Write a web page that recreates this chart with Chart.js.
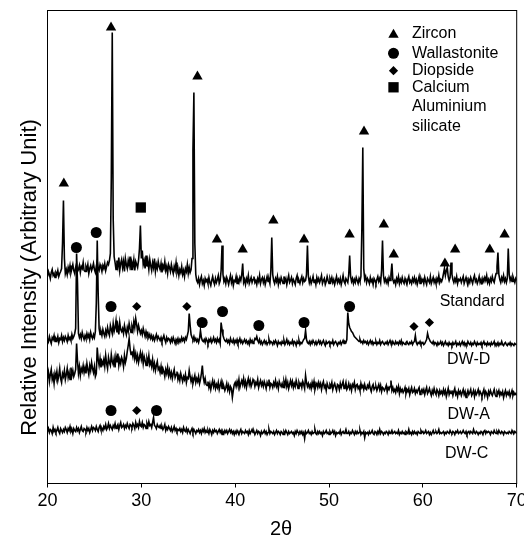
<!DOCTYPE html>
<html>
<head>
<meta charset="utf-8">
<script src="https://cdn.jsdelivr.net/npm/chart.js@4"></script>
<style>html,body{margin:0;padding:0;background:#fff}canvas{display:block}</style>
</head>
<body>
<canvas id="xrd" width="524" height="539"></canvas>
<script>
// Step scan 20–70° 2θ, 0.1° per step (501 points per pattern)
const START = 20, STEP = 0.1;

// Raw intensities, one row per degree
const standard = [
12,17,14,10,16,19,13,15,11,16,
14,18,12,15,17,20,45,88,30,15,
19,14,21,17,23,16,20,24,18,15,
21,25,17,19,23,16,22,20,26,18,
17,22,19,24,15,20,23,18,21,25,
19,16,22,27,20,18,24,21,17,23,
20,25,18,22,26,24,28,35,111,256,
70,32,26,19,28,22,31,18,25,29,
21,27,17,30,24,20,28,23,32,19,
26,22,29,18,27,24,21,28,40,63,
30,38,24,28,20,33,22,27,19,29,
23,18,26,21,30,17,24,20,27,22,
19,25,16,23,20,27,18,22,15,24,
21,17,24,19,15,22,18,26,16,20,
13,19,16,22,14,18,12,20,17,24,
15,21,16,19,30,138,196,45,14,8,
6,10,4,9,12,5,8,3,10,7,
9,5,11,6,3,8,12,7,4,10,
6,9,13,5,8,18,43,14,7,10,
5,11,8,4,9,13,6,10,3,8,
7,12,5,9,6,11,8,14,25,6,
9,4,10,7,13,5,8,11,6,9,
12,6,8,4,10,7,13,5,9,11,
6,10,4,8,12,7,9,5,18,51,
14,8,5,10,7,12,4,9,6,11,
8,5,12,7,10,4,9,13,6,8,
11,5,9,7,4,10,13,6,8,5,
9,12,6,10,7,8,14,43,12,6,
10,5,8,12,6,9,4,11,7,10,
6,9,13,5,8,10,4,7,12,8,
5,10,7,11,6,9,4,8,12,6,
9,6,10,4,8,13,7,5,10,8,
6,14,33,12,7,10,5,9,6,11,
8,5,10,7,12,60,141,20,9,12,
6,10,8,5,11,7,9,4,10,8,
5,9,12,7,10,6,18,48,13,7,
10,6,9,5,11,8,14,25,9,6,
8,4,10,7,12,5,9,6,11,7,
5,10,7,4,9,12,6,8,5,10,
7,11,6,9,4,8,12,5,10,7,
9,5,11,7,4,10,8,6,12,5,
8,11,6,9,5,10,7,13,6,9,
7,10,15,20,13,18,21,12,8,11,
26,14,9,6,10,7,12,5,9,8,
10,6,9,12,5,8,11,7,4,9,
6,11,8,5,10,13,7,9,5,8,
12,6,9,4,10,7,11,8,13,6,
9,5,10,7,12,8,6,11,15,22,
36,14,9,6,11,8,13,7,10,6,
10,40,14,8,11,7,12,9,6,10,
8];

const dwD = [
15,12,17,13,10,16,14,18,12,15,
13,17,11,15,14,18,12,16,13,17,
15,12,18,14,16,13,19,15,17,20,
25,100,70,20,16,19,15,21,17,14,
18,15,20,16,19,14,21,17,15,19,
16,22,50,113,60,25,19,22,18,24,
20,17,23,19,26,21,18,28,24,20,
30,22,26,33,21,27,19,31,24,22,
25,20,28,23,19,26,22,30,25,21,
27,23,32,26,35,29,22,28,24,20,
23,19,25,21,17,22,18,20,16,19,
15,18,14,17,13,16,19,14,17,15,
13,16,12,15,18,14,11,16,13,15,
14,11,15,12,16,13,10,14,12,15,
11,14,12,16,13,15,12,16,14,18,
22,40,28,19,16,14,17,13,15,12,
14,11,15,23,16,13,12,14,11,15,
13,10,14,12,15,11,13,16,12,14,
11,15,12,14,10,31,24,18,15,13,
12,14,11,13,10,15,12,11,14,10,
13,11,14,10,12,15,11,13,10,12,
14,11,13,10,12,9,14,11,13,10,
12,15,14,17,13,11,14,10,12,9,
11,13,10,12,9,11,14,10,12,11,
9,12,10,13,11,8,12,10,11,9,
12,10,13,9,11,14,10,12,9,11,
10,13,9,12,11,8,12,10,13,9,
11,10,12,14,15,23,14,11,10,12,
9,12,10,13,11,10,12,9,11,13,
10,12,9,11,13,10,8,12,10,11,
12,9,11,10,13,9,11,12,10,8,
11,10,12,9,11,13,10,12,11,14,
41,30,26,24,22,21,19,17,16,15,
14,13,12,14,11,12,10,13,11,12,
10,12,9,11,13,10,12,9,11,10,
12,9,11,10,13,9,11,12,10,9,
11,10,12,9,11,13,10,9,12,10,
9,12,10,11,9,12,10,13,9,11,
10,9,11,12,10,9,11,10,12,9,
11,12,18,11,9,11,10,12,9,10,
11,9,10,12,14,20,16,14,12,11,
10,12,9,11,10,8,11,9,10,12,
9,11,8,10,12,9,10,8,11,9,
10,8,11,9,10,12,8,10,9,11,
8,10,12,9,11,8,10,9,12,10,
9,11,8,10,9,12,10,8,11,9,
10,9,11,8,10,12,9,10,8,11,
9,10,8,11,9,10,12,8,10,9,
11,8,10,9,12,9,8,10,11,9,
8,10,9,11,8,10,9,8,10,9,
9];

const dwA = [
25,31,22,29,34,24,28,20,30,26,
32,23,28,35,25,21,30,27,33,24,
29,35,26,31,24,36,28,33,27,30,
34,60,42,30,37,28,35,32,38,31,
36,30,40,34,29,38,33,41,35,31,
37,27,30,56,44,38,45,36,42,39,
44,37,48,40,35,46,41,38,49,42,
39,45,36,47,41,50,38,44,40,46,
43,37,48,41,45,52,58,65,55,49,
52,47,54,45,50,43,48,41,46,51,
44,49,40,47,43,38,45,41,48,39,
42,37,44,35,40,33,38,42,34,36,
31,37,29,35,32,27,34,30,36,28,
33,27,31,25,30,34,26,29,32,24,
28,23,30,26,22,27,24,29,21,26,
25,33,27,22,26,20,24,28,21,25,
22,27,20,24,30,38,26,21,25,19,
18,22,16,20,14,19,23,17,21,15,
19,16,21,14,18,22,15,20,17,13,
16,20,14,18,12,17,15,6,13,19,
21,17,22,18,24,16,20,23,19,25,
18,22,16,21,25,19,23,17,20,24,
22,17,21,19,24,16,20,23,18,21,
17,22,19,15,21,18,24,16,20,19,
16,21,18,23,17,20,15,22,19,17,
20,16,22,18,24,17,21,15,19,23,
18,22,16,20,17,23,19,15,21,18,
20,16,22,19,15,28,21,17,20,16,
19,15,21,17,22,14,18,20,16,21,
17,20,14,19,22,16,18,13,20,17,
15,19,17,21,14,18,20,16,13,19,
18,14,20,16,19,22,15,17,21,14,
16,20,15,18,13,19,17,21,14,18,
19,15,17,13,20,16,18,14,19,15,
14,18,16,20,15,12,17,19,14,16,
17,13,16,19,14,18,12,16,15,13,
15,18,12,16,14,17,23,13,16,12,
14,11,16,13,17,10,15,12,14,11,
13,16,10,14,12,15,9,13,16,11,
12,15,10,13,11,14,16,9,12,14,
11,14,9,13,16,10,12,15,11,8,
13,10,15,11,9,14,12,8,13,10,
12,9,14,10,13,7,11,15,9,12,
10,13,8,12,15,9,11,7,13,10,
12,8,11,14,9,12,6,10,13,9,
11,14,8,10,13,7,12,9,11,14,
9,12,10,7,11,14,8,12,10,6,
12,9,13,10,8,11,14,9,7,12,
10,13,8,11,9,12,6,10,13,8,
11,9,12,7,10,13,8,11,9,10,
8];

const dwC = [
12,15,11,14,13,10,16,12,14,11,
13,16,12,10,15,13,11,14,12,16,
14,11,15,13,17,12,14,10,15,13,
12,16,13,15,11,14,17,13,12,15,
14,12,16,13,15,11,14,17,13,16,
15,13,17,14,12,16,18,14,15,13,
17,15,19,14,16,20,15,18,16,14,
18,16,20,15,17,19,14,18,21,16,
17,19,15,18,16,20,17,15,19,18,
16,20,18,15,21,17,19,16,22,18,
17,21,16,19,18,15,20,17,22,18,
19,16,21,26,18,17,15,19,17,16,
18,15,17,14,16,19,13,16,14,17,
15,13,16,12,14,17,13,15,12,14,
13,15,12,14,11,16,13,12,15,11,
14,12,10,13,15,11,14,12,10,13,
12,14,11,13,10,14,12,15,11,13,
11,13,10,14,12,9,13,11,14,12,
13,10,12,14,11,13,9,12,10,13,
11,13,10,12,14,11,13,10,12,9,
12,10,13,11,9,12,14,10,12,11,
10,13,11,12,9,13,10,12,14,11,
12,9,11,13,10,12,11,8,12,10,
11,13,10,12,9,11,14,10,12,11,
10,12,9,11,13,10,12,11,9,12,
11,9,12,10,13,11,9,12,10,11,
12,10,11,8,12,10,13,11,10,12,
10,12,9,11,5,12,10,11,13,10,
11,9,12,10,11,14,10,9,12,10,
12,10,11,8,12,10,11,13,10,11,
9,12,10,11,13,10,12,8,11,10,
11,10,13,9,11,12,10,11,14,10,
10,12,9,11,10,13,11,9,12,10,
12,10,11,13,9,11,10,12,6,11,
10,11,9,12,10,11,13,10,9,12,
11,9,12,10,14,10,12,11,9,11,
10,12,11,9,12,10,11,13,10,11,
12,10,11,10,13,9,11,10,12,10,
11,9,12,11,10,14,10,11,9,12,
10,12,10,11,9,12,11,10,13,11,
12,10,11,13,10,11,12,9,11,9,
11,13,10,11,12,10,11,14,10,11,
10,11,12,9,11,10,12,11,10,13,
11,10,12,11,9,12,11,13,10,11,
12,10,11,13,11,10,12,9,11,12,
10,12,11,10,14,11,10,12,11,9,
11,10,12,11,9,12,13,10,12,11,
12,11,9,12,11,10,13,11,10,12,
10,13,11,10,12,11,9,12,11,10,
11,10,12,11,10,13,11,10,12,11,
10];

const patternNames = ['Standard', 'DW-D', 'DW-A', 'DW-C'];
const patternOffsets = [195, 130, 80, 40];
const tickValues = [20, 30, 40, 50, 60, 70];

// Phase identification marks: [2θ, height]
const zirconMarks = [[21.74,300],[26.77,456],[35.98,407],[38.06,244],[40.80,234],[44.07,263],[47.34,244],[52.19,249],[53.73,352],[55.84,259],[56.90,229],[62.35,220],[63.44,234],[67.13,234],[68.71,249]];
const wollastoniteMarks = [[23.08,236],[25.19,251],[26.77,177],[36.48,161],[38.65,172],[42.52,158],[47.34,161],[52.19,177],[26.77,73],[31.62,73]];
const diopsideMarks = [[29.51,177],[34.85,177],[59.05,157],[60.70,161],[29.51,73]];
const casMarks = [[29.94,276]];

const FONT = "'Liberation Sans', Arial, Helvetica, sans-serif";
const twoTheta = standard.map((_, i) => +(START + i * STEP).toFixed(1));
const trace = (vals, off) => vals.map((v, i) => ({ x: twoTheta[i], y: v + off }));
const pts = arr => arr.map(([x, y]) => ({ x, y }));

const patterns = [standard, dwD, dwA, dwC].map((vals, k) => ({
  type: 'line',
  label: patternNames[k],
  data: trace(vals, patternOffsets[k]),
  borderColor: '#000',
  borderWidth: 1.6,
  pointRadius: 0,
  fill: false,
  tension: 0
}));

const phases = [
  { label: 'Zircon', lines: ['Zircon'], data: zirconMarks, style: 'triangle', r: 6 },
  { label: 'Wallastonite', lines: ['Wallastonite'], data: wollastoniteMarks, style: 'circle', r: 5.5 },
  { label: 'Diopside', lines: ['Diopside'], data: diopsideMarks, style: 'rectRot', r: 4.6 },
  { label: 'Calcium Aluminium silicate', lines: ['Calcium', 'Aluminium', 'silicate'], data: casMarks, style: 'rect', r: 7.3 }
];

const markSets = phases.map(p => ({
  type: 'scatter',
  label: p.label,
  data: pts(p.data),
  pointStyle: p.style,
  pointRadius: p.r,
  backgroundColor: '#000',
  borderColor: '#000',
  borderWidth: 0,
  showLine: false,
  clip: false
}));

// Label anchors for the pattern names, in axis units
const nameAnchors = [[65.25, 182], [64.88, 123.5], [64.88, 68.5], [64.67, 30.2]];

const decorations = {
  id: 'decorations',
  afterDatasetsDraw(chart) {
    const { ctx, chartArea: a, scales: { x, y } } = chart;
    ctx.save();
    ctx.strokeStyle = '#000';
    ctx.lineWidth = 1;
    ctx.strokeRect(a.left, a.top, a.right - a.left, a.bottom - a.top);

    ctx.fillStyle = '#000';
    ctx.textAlign = 'center';
    ctx.textBaseline = 'middle';
    ctx.font = `16px ${FONT}`;
    patternNames.forEach((n, i) => {
      ctx.fillText(n, x.getPixelForValue(nameAnchors[i][0]), y.getPixelForValue(nameAnchors[i][1]));
    });

    // legend
    const symX = a.right - 123.2, txtX = a.right - 104.8;
    const rowY = [a.top + 22.7, a.top + 42.8, a.top + 60.2, a.top + 76.8];
    ctx.textAlign = 'left';
    phases.forEach((p, i) => {
      Chart.helpers.drawPoint(ctx, { pointStyle: p.style, radius: p.r, rotation: 0, borderWidth: 0 }, symX, rowY[i] + (p.style === 'triangle' ? 1.5 : 0));
      p.lines.forEach((t, j) => ctx.fillText(t, txtX, rowY[i] + j * 19.4));
    });

    // axis titles
    ctx.textAlign = 'center';
    ctx.font = `20px ${FONT}`;
    ctx.fillText('2\u03B8', 281, 529);
    ctx.translate(35.5, 277.5);
    ctx.rotate(-Math.PI / 2);
    ctx.textBaseline = 'alphabetic';
    ctx.font = `22px ${FONT}`;
    ctx.fillText('Relative Intensity (Arbitrary Unit)', 0, 0);
    ctx.restore();
  }
};

new Chart(document.getElementById('xrd'), {
  type: 'line',
  data: { datasets: [...markSets, ...patterns] },
  options: {
    responsive: false,
    animation: false,
    events: [],
    parsing: false,
    layout: { padding: { left: 47.5, right: 2.5, top: 10.5, bottom: 0 } },
    plugins: { legend: { display: false }, tooltip: { enabled: false } },
    scales: {
      x: {
        type: 'linear',
        min: 20,
        max: 70,
        afterBuildTicks: s => { s.ticks = tickValues.map(v => ({ value: v })); },
        afterFit: s => { s.height = 55.5; s.paddingLeft = 0; s.paddingRight = 0; },
        ticks: { font: { family: FONT, size: 18 }, color: '#000', padding: 3, maxRotation: 0, autoSkip: false },
        grid: { drawOnChartArea: false, drawTicks: true, tickLength: 4, color: '#000', lineWidth: 1 },
        border: { display: true, color: '#000', width: 1 }
      },
      y: { display: false, min: 0, max: 473 }
    }
  },
  plugins: [decorations]
});
</script>
</body>
</html>
